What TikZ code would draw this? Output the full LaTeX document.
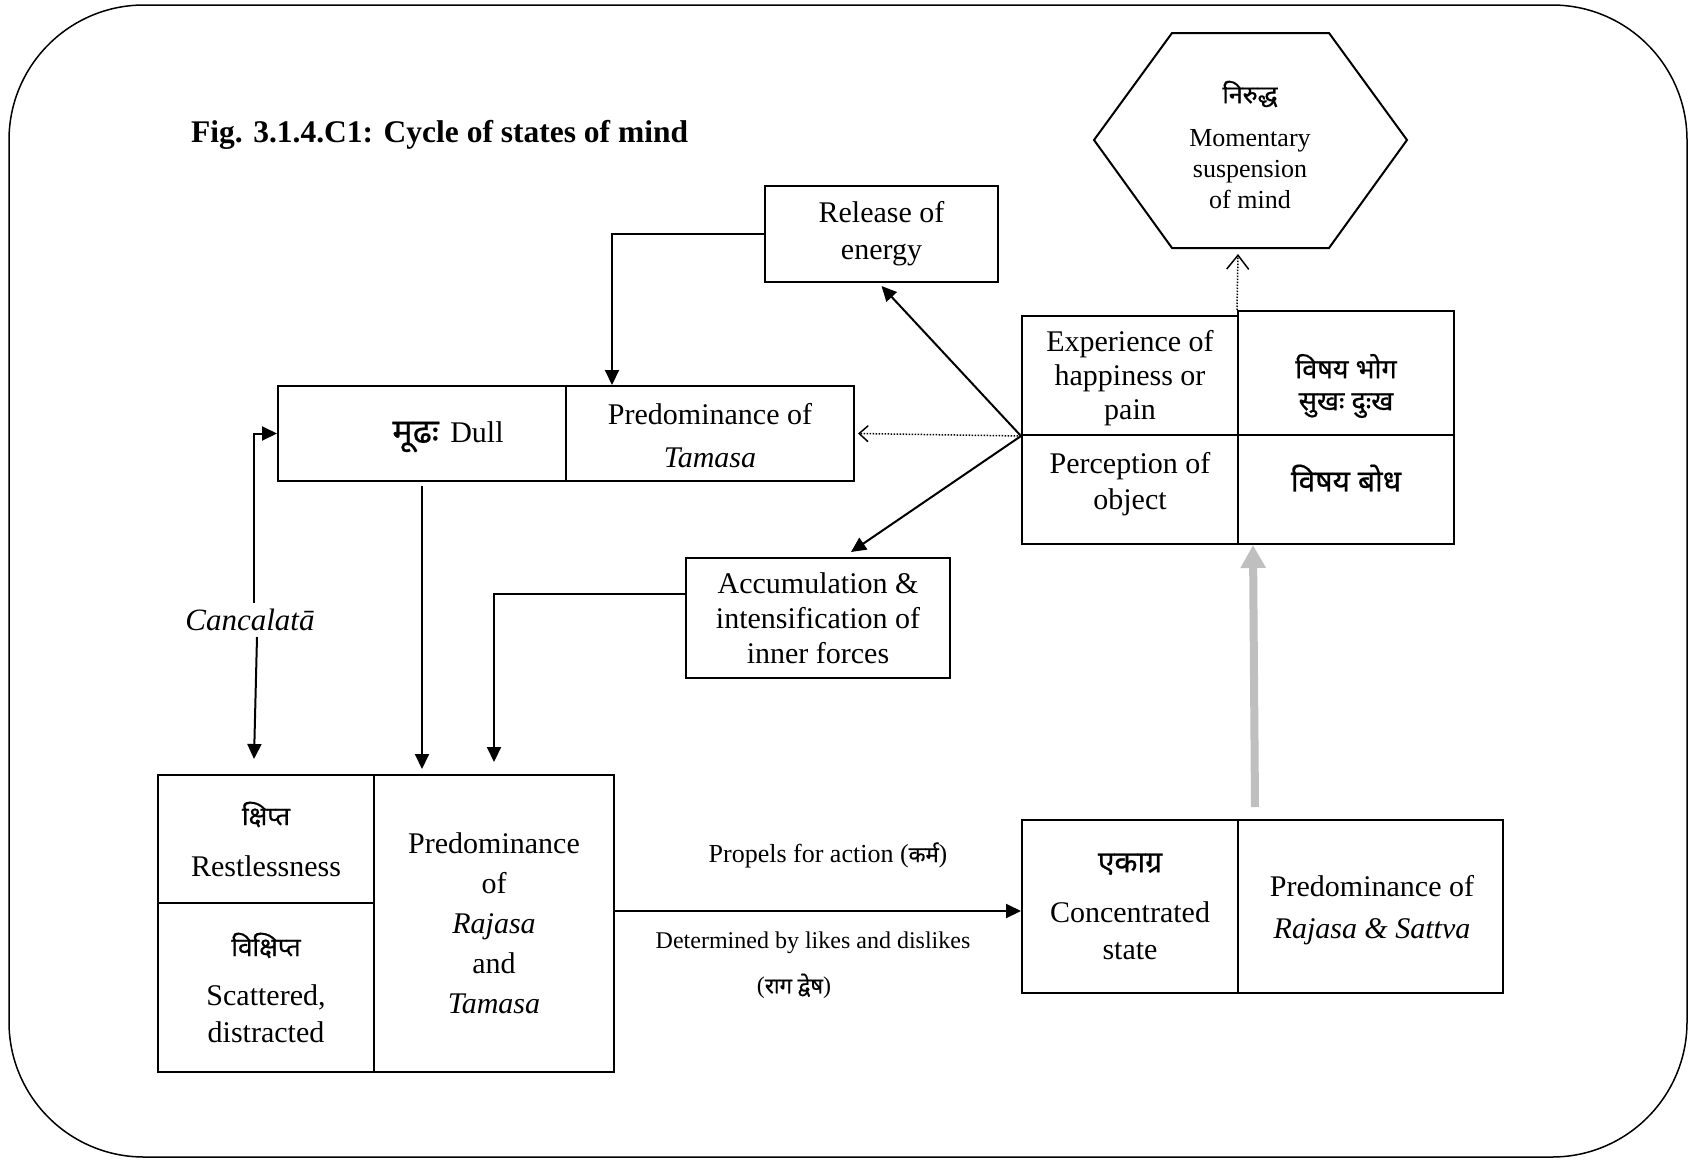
\documentclass[tikz,border=0pt]{standalone}
\usepackage{fontspec}
\setmainfont{Liberation Serif}
\newfontfamily\deva[Script=Devanagari,FakeBold=0.6]{Noto Sans}
\usetikzlibrary{arrows.meta}
\newcommand\dv[1]{{\deva\fontsize{26}{30}\selectfont #1}}
\newcommand\dvx[2]{{\deva\fontsize{#1}{30}\selectfont #2}}
\newcommand\dvs[1]{{\deva\fontsize{22}{26}\selectfont #1}}
\begin{document}
\begin{tikzpicture}[x=1pt,y=-1pt,
  cell/.style={draw, line width=2pt, inner sep=0pt, align=center, font=\fontsize{30}{35}\selectfont},
  arr/.style={line width=2pt, -{Triangle[length=15pt,width=14pt]}},
  dotarr/.style={line width=1.5pt, dash pattern=on 1.5pt off 1.5pt, -{Straight Barb[length=9pt,width=16pt]}},
  grayarr/.style={line width=8pt, black!25, -{Triangle[length=23pt,width=24pt]}},
  lbl/.style={inner sep=0pt, align=center}]
\useasboundingbox (0,0) rectangle (1690,1160);
\draw[line width=1.5pt, rounded corners=135pt] (9,5) rectangle (1687,1157);

\node[lbl, anchor=west, font=\fontsize{31.5}{36}\selectfont\bfseries] (title) at (191,135) {Fig. 3.1.4.C1: Cycle of states of mind};

% hexagon
\draw[line width=2pt] (1094,140) -- (1172,33) -- (1329,33) -- (1407,140) -- (1329,248) -- (1172,248) -- cycle;
\node[lbl] (hexdeva) at (1250,94) {\dvx{25}{निरुद्ध}};
\node[lbl, font=\fontsize{26}{31}\selectfont] (hextext) at (1250,169) {Momentary\\suspension\\of mind};
\coordinate (hexin) at (1238,254);

% cells
\node[cell, minimum width=233pt, minimum height=96pt, font=\fontsize{30}{37}\selectfont] (release) at (881.5,234) {Release of\\energy};
\node[cell, minimum width=288pt, minimum height=95pt] (dull) at (422,433.5) {};
\node[lbl, font=\fontsize{30}{35}\selectfont] (dulltext) at (448,437) {\dvx{34}{मूढः}\hspace{4pt} Dull};
\node[cell, minimum width=288pt, minimum height=95pt, font=\fontsize{30}{43}\selectfont] (tamasa) at (710,433.5) {};
\node[lbl, font=\fontsize{30}{43}\selectfont] (tamasatext) at (710,436) {Predominance of\\\textit{Tamasa}};
\node[cell, minimum width=216pt, minimum height=119pt] (exper) at (1130,375.5) {};
\node[lbl, font=\fontsize{30}{34}\selectfont] (expertext) at (1130,378) {Experience of\\happiness or\\pain};
\node[cell, minimum width=216pt, minimum height=124pt] (bhoga) at (1346,373) {};
\node[lbl, font=\fontsize{27}{32}\selectfont] (bhogatext) at (1346,386) {\dvx{27}{विषय भोग}\\\dvx{27}{सुखः दुःख}};
\node[cell, minimum width=216pt, minimum height=109pt] (percep) at (1130,489.5) {};
\node[lbl, font=\fontsize{30}{36}\selectfont] (perceptext) at (1130,484) {Perception of\\object};
\node[cell, minimum width=216pt, minimum height=109pt] (bodha) at (1346,489.5) {};
\node[lbl] (bodhatext) at (1346,478) {\dvx{30}{विषय बोध}};
\node[cell, minimum width=264pt, minimum height=120pt] (accum) at (818,618) {Accumulation \&\\intensification of\\inner forces};
\node[cell, minimum width=216pt, minimum height=128pt] (kshipta) at (266,839) {\dv{क्षिप्त}\\[16pt]Restlessness};
\node[cell, minimum width=216pt, minimum height=169pt, font=\fontsize{30}{37}\selectfont] (vikshipta) at (266,987.5) {\dv{विक्षिप्त}\\[12pt]Scattered,\\distracted};
\node[cell, minimum width=240pt, minimum height=297pt, font=\fontsize{30}{40}\selectfont] (rajtam) at (494,923.5) {Predominance\\of\\\textit{Rajasa}\\and\\\textit{Tamasa}};
\node[cell, minimum width=216pt, minimum height=173pt, font=\fontsize{30}{37}\selectfont] (ekagra) at (1130,906.5) {\dvx{30}{एकाग्र}\\[13pt]Concentrated\\state};
\node[cell, minimum width=265pt, minimum height=173pt] (rajsat) at (1370.5,906.5) {};
\node[lbl, font=\fontsize{30}{42}\selectfont] (rajsattext) at (1372,910) {Predominance of\\\textit{Rajasa \& Sattva}};

% Cancalata
\node[lbl, font=\fontsize{31}{35}\selectfont\itshape] (canc) at (250,620) {Cancalatā};
\coordinate (ca) at (254,603);
\coordinate (cb) at (257,637);

% labels on main arrow
\node[lbl, font=\fontsize{26}{30}\selectfont] (propel) at (828,855) {Propels for action (\dvs{कर्म})};
\node[lbl, font=\fontsize{24}{28}\selectfont] (determ) at (813,943) {Determined by likes and dislikes};
\node[lbl, font=\fontsize{24}{28}\selectfont] (ragadvesha) at (794,986) {(\dvs{राग द्वेष})};

% connectors
\draw[arr] (release.west) -| ([xshift=47pt]tamasa.north west);
\draw[arr] (exper.south west) -- ([yshift=-3pt]release.south);
\draw[arr] (exper.south west) -- ([xshift=33pt,yshift=5pt]accum.north);
\draw[dotarr] (exper.south west) -- ([xshift=3pt]tamasa.east);
\draw[arr] ([yshift=24pt]accum.west) -| ([yshift=12pt]rajtam.north);
\draw[arr] ([yshift=-4pt]dull.south) -- ([yshift=5pt]dull.south |- rajtam.north);
\draw[arr] (ca) |- (dull.west);
\draw[arr] (cb) -- ([xshift=-12pt,yshift=15pt]kshipta.north);
\draw[arr] ([yshift=12.5pt]rajtam.east) -- ([yshift=12.5pt]rajtam.east -| ekagra.west);
\draw[grayarr] ([xshift=16pt,yshift=12pt]ekagra.north east) -- ([xshift=16pt]bodha.south west);
\draw[dotarr, -{Straight Barb[length=14pt,width=22pt]}] (bhoga.north west) -- (hexin);
\end{tikzpicture}
\end{document}
